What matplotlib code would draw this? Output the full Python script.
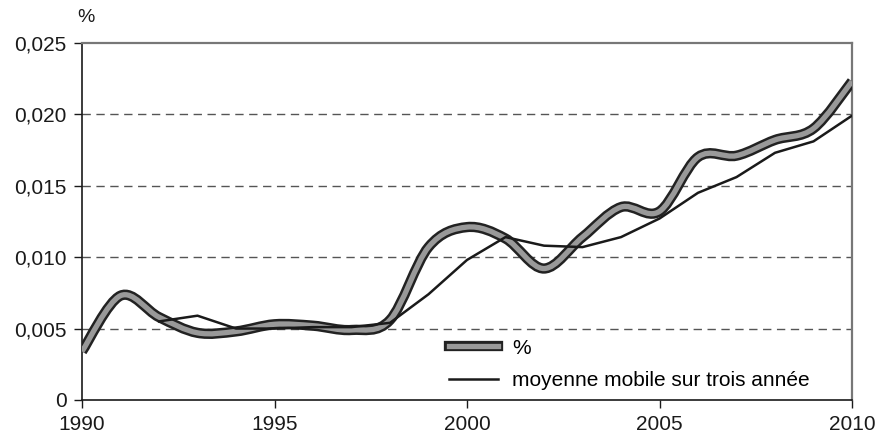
import matplotlib.pyplot as plt
from matplotlib.path import Path
from matplotlib.patches import PathPatch
import matplotlib.patheffects as pe

plt.rcParams['font.family'] = ['Liberation Sans', 'DejaVu Sans']

# Data
years = list(range(1990, 2011))
share = [0.0034, 0.0073, 0.0058, 0.0047, 0.0048, 0.0053, 0.0052, 0.0049,
         0.0056, 0.0107, 0.0121, 0.0113, 0.0092, 0.0114, 0.0135, 0.0132,
         0.0170, 0.0171, 0.0182, 0.0190, 0.0223]
ma_years = list(range(1992, 2011))
moving_avg = [0.0055, 0.0059, 0.0050, 0.0050, 0.0051, 0.0051, 0.0054,
              0.0074, 0.0098, 0.0114, 0.0108, 0.0107, 0.0114, 0.0127,
              0.0145, 0.0156, 0.0173, 0.0181, 0.0199]
yticks = [0, 0.005, 0.010, 0.015, 0.020, 0.025]
ytick_labels = ['0', '0,005', '0,010', '0,015', '0,020', '0,025']
xticks = [1990, 1995, 2000, 2005, 2010]


def smooth_path(xs, ys, t=1 / 6):
    # Catmull-Rom style bezier, like the spreadsheet "smoothed line"
    verts = [(xs[0], ys[0])]
    codes = [Path.MOVETO]
    n = len(xs)
    for i in range(n - 1):
        x0, y0 = (xs[i - 1], ys[i - 1]) if i > 0 else (xs[i], ys[i])
        x1, y1 = xs[i], ys[i]
        x2, y2 = xs[i + 1], ys[i + 1]
        x3, y3 = (xs[i + 2], ys[i + 2]) if i + 2 < n else (x2, y2)
        verts += [(x1 + (x2 - x0) * t, y1 + (y2 - y0) * t),
                  (x2 - (x3 - x1) * t, y2 - (y3 - y1) * t),
                  (x2, y2)]
        codes += [Path.CURVE4] * 3
    return Path(verts, codes)


fig = plt.figure(figsize=(8.77, 4.41), dpi=100)
ax = fig.add_axes([0.0935, 0.093, 0.878, 0.81])

ax.set_xlim(1990, 2010)
ax.set_ylim(0, 0.025)

for y in yticks[1:-1]:
    ax.axhline(y, color='#555555', lw=1.0, dashes=(6, 4), zorder=1)

thick_fx = [pe.Stroke(linewidth=7.4, foreground='#222222'), pe.Normal()]
patch = PathPatch(smooth_path(years, share), facecolor='none',
                  edgecolor='#999999', lw=3.8, zorder=3, capstyle='butt',
                  path_effects=thick_fx)
ax.add_patch(patch)
# proxy for legend
ax.plot([], [], color='#999999', lw=3.8, label='%', path_effects=thick_fx)

ax.plot(ma_years, moving_avg, color='#1a1a1a', lw=1.8, zorder=4,
        label='moyenne mobile sur trois année')

ax.set_yticks(yticks)
ax.set_yticklabels(ytick_labels)
ax.set_xticks(xticks)
ax.tick_params(axis='both', labelsize=15, length=6, width=1, colors='#1a1a1a',
               direction='out')
ax.tick_params(axis='x', pad=5)
ax.tick_params(axis='y', pad=5)

for side in ['left', 'bottom']:
    ax.spines[side].set_color('#1a1a1a')
    ax.spines[side].set_linewidth(1.2)
for side in ['top', 'right']:
    ax.spines[side].set_color('#777777')
    ax.spines[side].set_linewidth(1.6)

fig.text(0.088, 0.96, '%', fontsize=14, color='#1a1a1a', ha='left', va='center')

leg = ax.legend(loc='center left', bbox_to_anchor=(0.477, 0.0994), frameon=False,
                fontsize=15, handlelength=2.35, handletextpad=0.67,
                labelspacing=0.65, borderpad=0, borderaxespad=0)

fig.savefig('out.png', dpi=100)
